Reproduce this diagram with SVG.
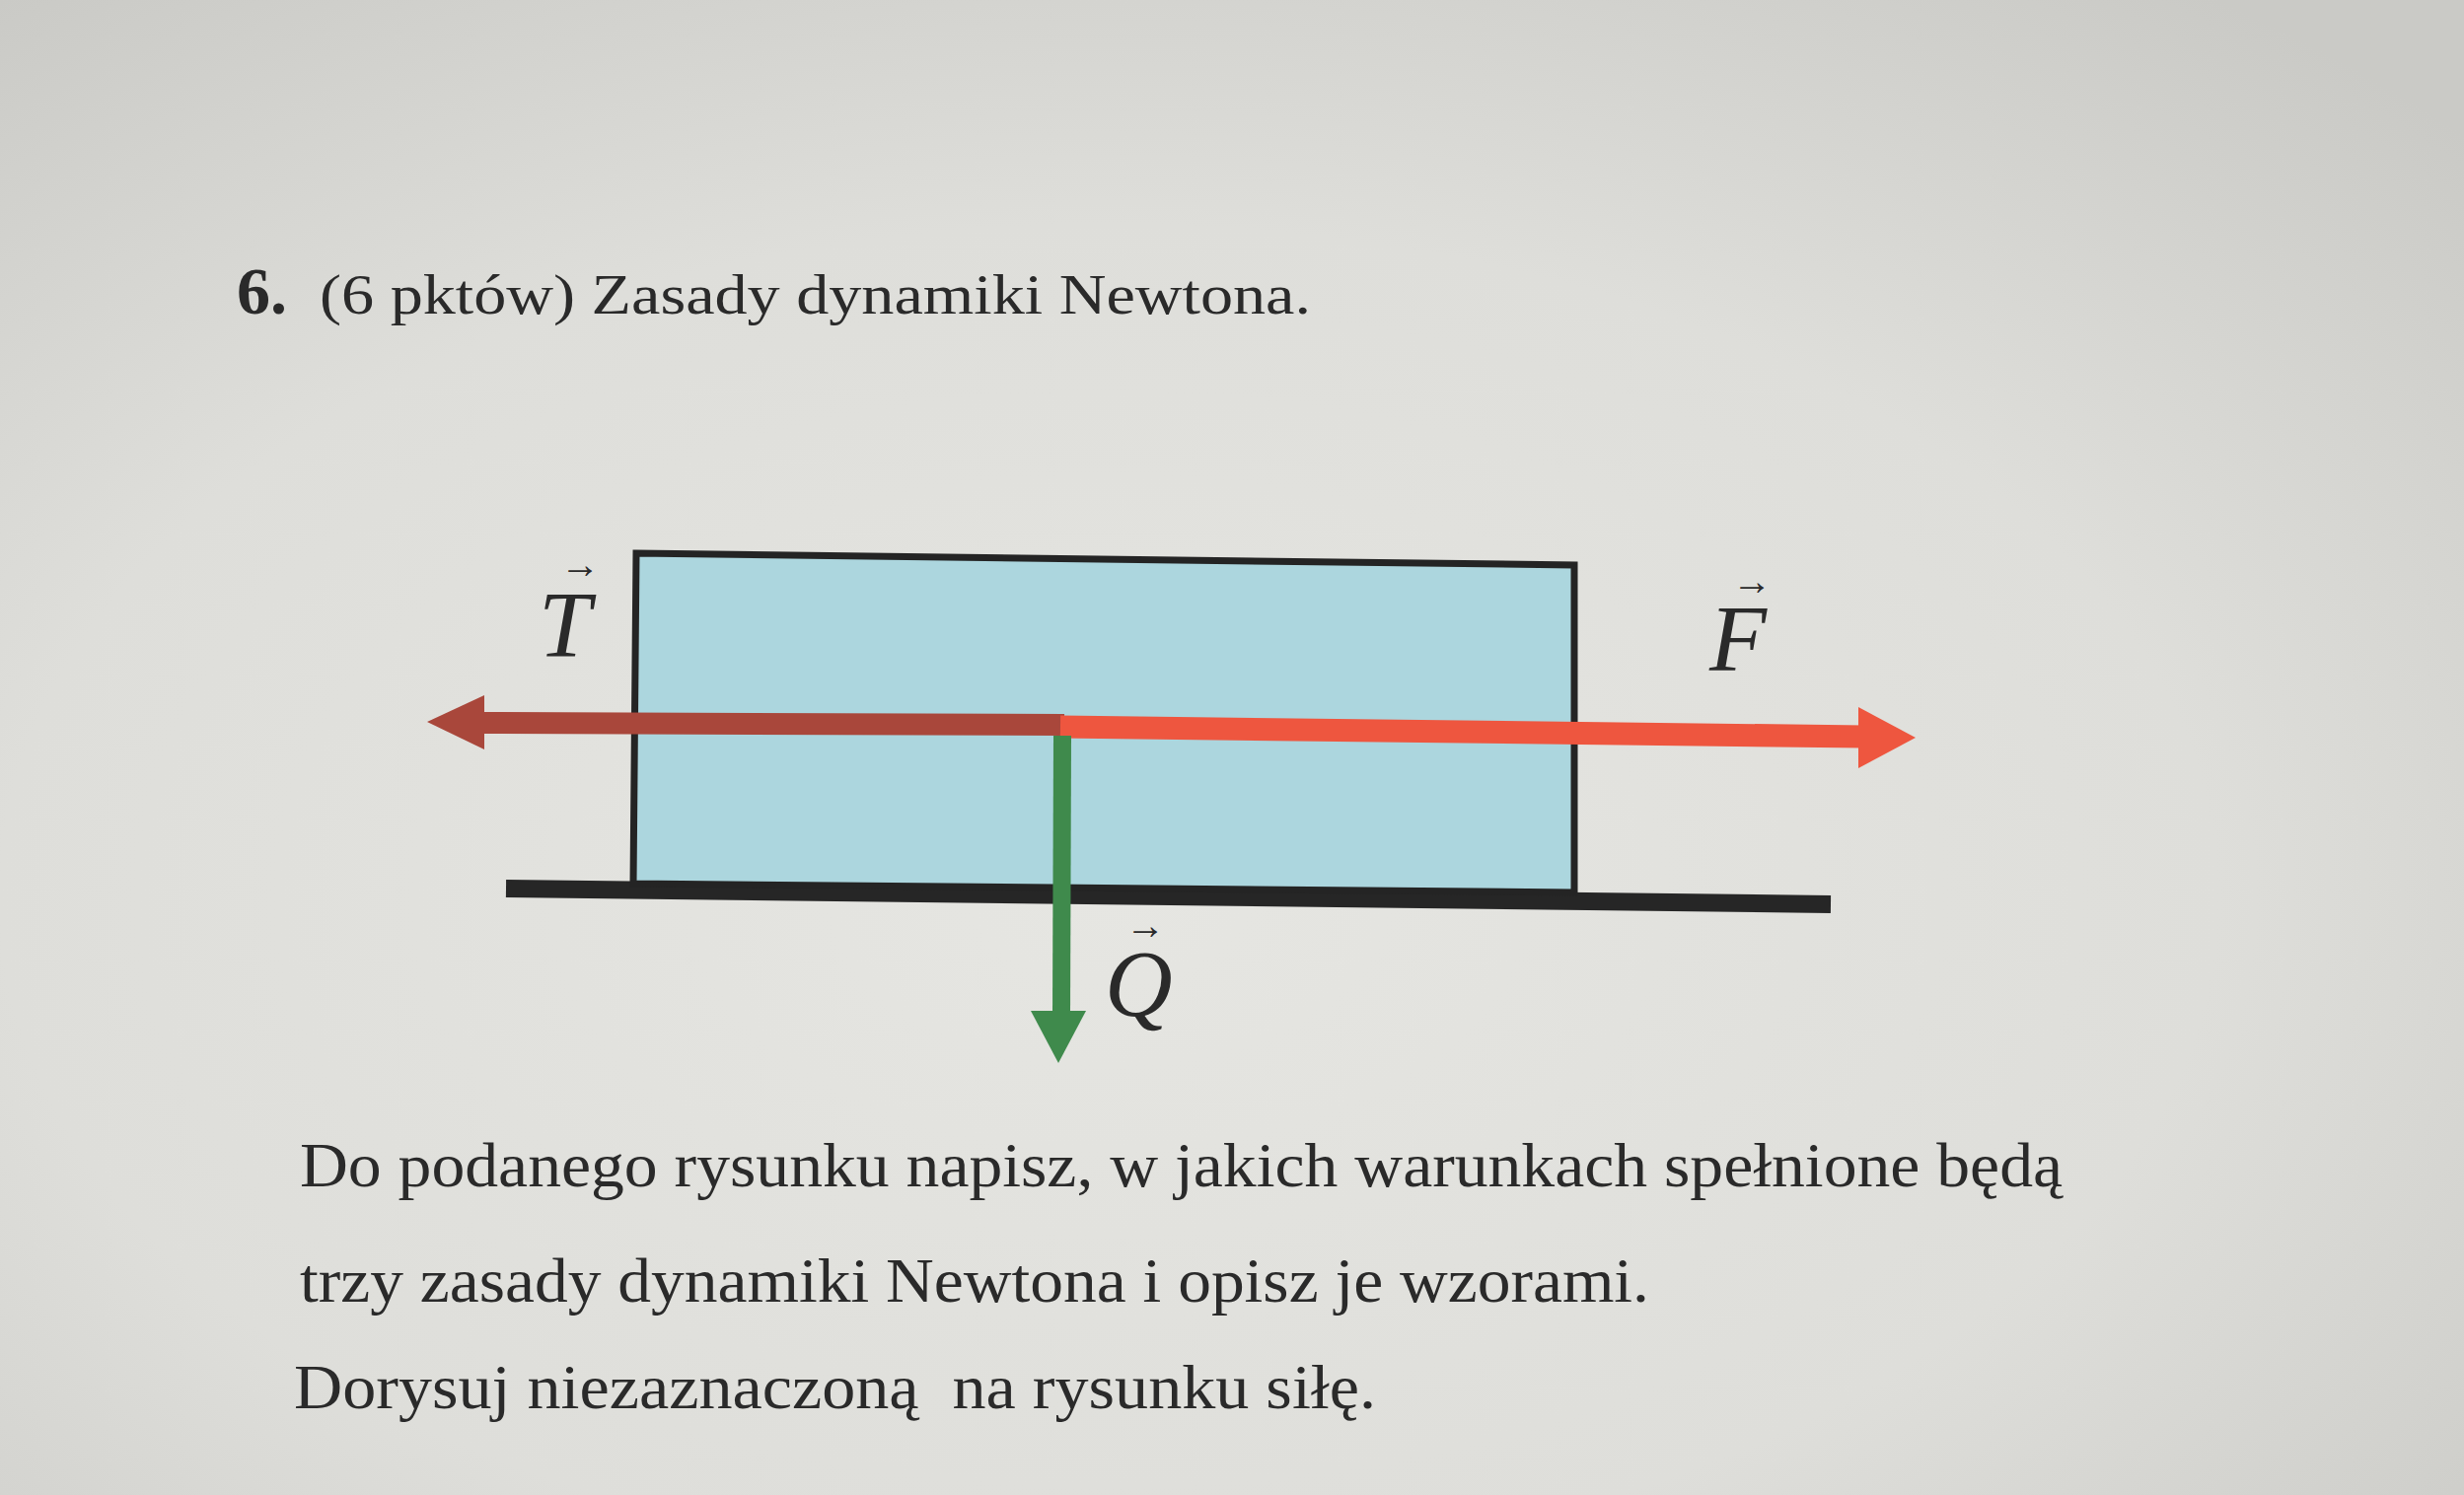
<svg xmlns="http://www.w3.org/2000/svg" width="2498" height="1516" viewBox="0 0 2498 1516">
<defs>
<radialGradient id="paper" cx="0.45" cy="0.6" r="0.75">
<stop offset="0" stop-color="#e6e6e2"/>
<stop offset="0.6" stop-color="#dededa"/>
<stop offset="1" stop-color="#cacac6"/>
</radialGradient>
<style>
.t{font-family:"Liberation Serif","Times New Roman",serif;fill:#2a2a2a}
.body{font-size:63px}
.lab{font-size:95px;font-style:italic}
.vec{font-size:40px}
</style>
</defs>
<rect x="0" y="0" width="2498" height="1516" fill="url(#paper)"/>
<g id="title">
<text class="t" x="240" y="318" font-size="68" font-weight="bold">6.</text>
<text class="t" x="324" y="318" font-size="57" textLength="1005" lengthAdjust="spacingAndGlyphs">(6 pktów) Zasady dynamiki Newtona.</text>
</g>
<g id="ground">
<line x1="513" y1="901" x2="1856" y2="917" stroke="#262626" stroke-width="18"/>
</g>
<g id="block">
<polygon points="645,561 1596,573 1596,905 642,896" fill="#acd6de" stroke="#242424" stroke-width="7" stroke-linejoin="miter"/>
</g>
<g id="connectors">
<g id="force-T">
<line x1="1079" y1="735" x2="485" y2="733" stroke="#a9473b" stroke-width="22"/>
<polygon points="433,732 491,705 491,760" fill="#a9473b"/>
</g>
<g id="force-F">
<line x1="1075" y1="737" x2="1890" y2="747" stroke="#ee563f" stroke-width="23"/>
<polygon points="1942,748 1884,717 1884,779" fill="#ee563f"/>
</g>
<g id="force-Q">
<line x1="1077" y1="746" x2="1076" y2="1029" stroke="#3f8a4c" stroke-width="18"/>
<polygon points="1045,1025 1101,1025 1073,1078" fill="#3f8a4c"/>
</g>
</g>
<g id="label-T">
<text class="t vec" x="568" y="586">→</text>
<text class="t lab" x="546" y="666">T</text>
</g>
<g id="label-F">
<text class="t vec" x="1756" y="603">→</text>
<text class="t lab" x="1733" y="680">F</text>
</g>
<g id="label-Q">
<text class="t vec" x="1141" y="952">→</text>
<text class="t lab" x="1120" y="1030">Q</text>
</g>
<g id="instructions">
<text class="t body" x="304" y="1203" textLength="1787" lengthAdjust="spacingAndGlyphs">Do podanego rysunku napisz, w jakich warunkach spełnione będą</text>
<text class="t body" x="304" y="1320" textLength="1368" lengthAdjust="spacingAndGlyphs">trzy zasady dynamiki Newtona i opisz je wzorami.</text>
<text class="t body" x="298" y="1428" textLength="1097" lengthAdjust="spacingAndGlyphs" xml:space="preserve">Dorysuj niezaznaczoną  na rysunku siłę.</text>
</g>
</svg>
